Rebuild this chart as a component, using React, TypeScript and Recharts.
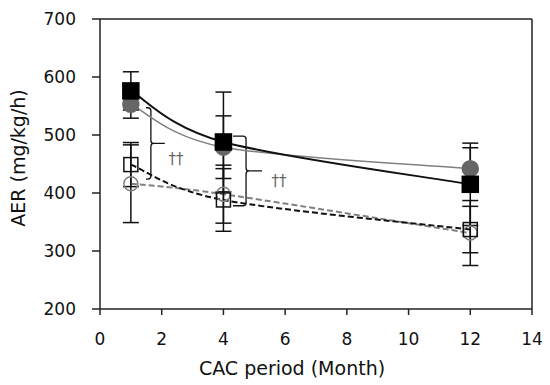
import React from 'react';
import {
  LineChart, Line, XAxis, YAxis, ErrorBar, ReferenceLine, ReferenceArea, ReferenceDot,
} from 'recharts';

// CAC period (months)
const months = [1, 4, 12];

// AER means (mg/kg/h)
const blackSquare = [576, 488, 415];
const grayCircle = [553, 479, 442];
const openSquare = [449, 388, 337];
const openCircle = [416, 398, 331];

// error bar half-widths
const blackSquareErr = [33, 86, 71];
const grayCircleErr = [24, 54, 36];
const openSquareErr = [38, 54, 40];
const openCircleErr = [67, 50, 56];

const xTicks = [0, 2, 4, 6, 8, 10, 12, 14];
const yTicks = [200, 300, 400, 500, 600, 700];

const data = months.map((m, i) => ({
  month: m,
  bs: blackSquare[i],
  gc: grayCircle[i],
  os: openSquare[i],
  oc: openCircle[i],
  bsErr: blackSquareErr[i],
  gcErr: grayCircleErr[i],
  osErr: openSquareErr[i],
  ocErr: openCircleErr[i],
}));

const FONT = '"DejaVu Sans", sans-serif';

// Excel-style smoothed line (Catmull-Rom through the points)
const excelSmooth = (context: any) => {
  let pts: [number, number][] = [];
  return {
    areaStart() {},
    areaEnd() {},
    lineStart() { pts = []; },
    point(x: number, y: number) { pts.push([+x, +y]); },
    lineEnd() {
      if (!pts.length) return;
      context.moveTo(pts[0][0], pts[0][1]);
      for (let i = 0; i < pts.length - 1; i++) {
        const p0 = pts[Math.max(i - 1, 0)];
        const p1 = pts[i];
        const p2 = pts[i + 1];
        const p3 = pts[Math.min(i + 2, pts.length - 1)];
        context.bezierCurveTo(
          p1[0] + (p2[0] - p0[0]) / 6, p1[1] + (p2[1] - p0[1]) / 6,
          p2[0] - (p3[0] - p1[0]) / 6, p2[1] - (p3[1] - p1[1]) / 6,
          p2[0], p2[1],
        );
      }
    },
  };
};

const squareDot = (fill: string, stroke: string, size: number) => (props: any) => {
  const { cx, cy, index } = props;
  return (
    <rect key={index} x={cx - size / 2} y={cy - size / 2} width={size} height={size}
      fill={fill} stroke={stroke} strokeWidth={1.5} />
  );
};

const circleDot = (fill: string, stroke: string, r: number) => (props: any) => {
  const { cx, cy, index } = props;
  return <circle key={index} cx={cx} cy={cy} r={r} fill={fill} stroke={stroke} strokeWidth={1.5} />;
};

// curly brace "}" drawn inside the reference area box
const brace = (split: number) => (props: any) => {
  const { x, y, width, height } = props;
  const vx = x + width * split;
  const mid = y + height / 2;
  const r = 3;
  const d = `M${x},${y} L${vx - r},${y} Q${vx},${y} ${vx},${y + r} L${vx},${mid - r} Q${vx},${mid} ${vx + r},${mid} L${x + width},${mid}
    M${vx + r},${mid} Q${vx},${mid} ${vx},${mid + r} L${vx},${y + height - r} Q${vx},${y + height} ${vx - r},${y + height} L${x},${y + height}`;
  return <path d={d} fill="none" stroke="#111" strokeWidth={1.3} />;
};

const daggerLabel = { value: '††', position: 'center' as const, fill: '#666', fontSize: 15, fontFamily: FONT };

export default function App() {
  return (
    <div style={{ position: 'absolute', left: 0, top: 0, background: '#fff' }}>
      <LineChart width={550} height={385} data={data}
        margin={{ top: 19, right: 18, bottom: 6, left: 0 }}>
        <XAxis dataKey="month" type="number" domain={[0, 14]} ticks={xTicks}
          stroke="#222" strokeWidth={1.5} tickSize={6} tickMargin={18}
          tick={{ fill: '#111', fontSize: 17, fontFamily: FONT }} height={70}
          label={{ value: 'CAC period (Month)', position: 'insideBottom', offset: 4, dx: -24,
            fill: '#111', fontSize: 19, fontFamily: FONT }} />
        <YAxis type="number" domain={[200, 700]} ticks={yTicks} width={100}
          stroke="#222" strokeWidth={1.5} tickSize={8} tickMargin={16}
          tick={{ fill: '#111', fontSize: 17, fontFamily: FONT }}
          label={{ value: 'AER (mg/kg/h)', angle: -90, position: 'insideLeft', offset: 18, dy: -6,
            style: { textAnchor: 'middle' }, fill: '#111', fontSize: 19, fontFamily: FONT }} />
        <ReferenceLine y={700} stroke="#222" strokeWidth={1.5} />
        <ReferenceLine x={14} stroke="#222" strokeWidth={1.5} />

        <Line dataKey="oc" type={excelSmooth as any} stroke="#808080" strokeWidth={2} strokeDasharray="6 3"
          dot={circleDot('none', '#808080', 7)} isAnimationActive={false}>
          <ErrorBar dataKey="ocErr" width={8} stroke="#111" strokeWidth={1.5} direction="y" />
        </Line>
        <Line dataKey="os" type={excelSmooth as any} stroke="#111" strokeWidth={2} strokeDasharray="6 3"
          dot={squareDot('none', '#111', 14)} isAnimationActive={false}>
          <ErrorBar dataKey="osErr" width={8} stroke="#111" strokeWidth={1.5} direction="y" />
        </Line>
        <Line dataKey="gc" type={excelSmooth as any} stroke="#808080" strokeWidth={1.5}
          dot={circleDot('#666', '#666', 8)} isAnimationActive={false}>
          <ErrorBar dataKey="gcErr" width={8} stroke="#111" strokeWidth={1.5} direction="y" />
        </Line>
        <Line dataKey="bs" type={excelSmooth as any} stroke="#111" strokeWidth={2}
          dot={squareDot('#000', '#000', 16)} isAnimationActive={false}>
          <ErrorBar dataKey="bsErr" width={8} stroke="#111" strokeWidth={1.5} direction="y" />
        </Line>

        <ReferenceArea x1={1.49} x2={2.1} y1={424} y2={547} shape={brace(0.26)} />
        <ReferenceArea x1={4.31} x2={5.25} y1={378} y2={498} shape={brace(0.45)} />
        <ReferenceDot x={2.46} y={460} r={0} fill="none" stroke="none" label={daggerLabel} />
        <ReferenceDot x={5.8} y={422} r={0} fill="none" stroke="none" label={daggerLabel} />
      </LineChart>
    </div>
  );
}
